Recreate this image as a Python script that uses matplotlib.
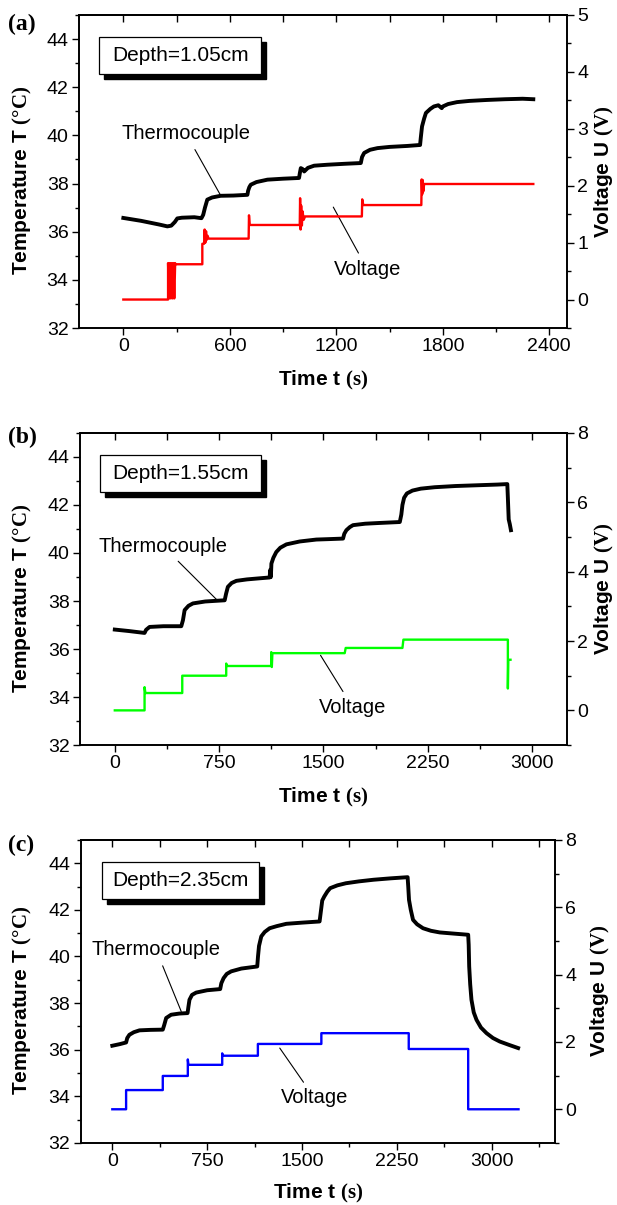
# Temperature / voltage step response at three probe depths (panels a, b, c).

import matplotlib.pyplot as plt
from matplotlib.patches import Rectangle
from matplotlib.ticker import MultipleLocator
from matplotlib.transforms import offset_copy

plt.rcParams['font.family'] = ['Liberation Sans', 'DejaVu Sans']
plt.rcParams['mathtext.fontset'] = 'custom'
plt.rcParams['mathtext.rm'] = 'Liberation Serif'
plt.rcParams['mathtext.bf'] = 'Liberation Serif:bold'
plt.rcParams['mathtext.it'] = 'Liberation Serif:italic'

# ---- panel (a), depth 1.05 cm ----
a_tc_t = [0, 100, 200, 248, 270, 290, 304, 330, 400, 440, 450, 460, 473, 500, 548, 620,
          699, 703, 710, 718, 750, 812, 900, 990, 995, 1000, 1010, 1019, 1040, 1075, 1150,
          1250, 1338, 1345, 1357, 1390, 1432, 1500, 1600, 1672, 1676, 1683, 1695, 1705,
          1730, 1750, 1775, 1794, 1800, 1830, 1880, 1950, 2050, 2150, 2250, 2310]
a_tc_T = [36.57, 36.45, 36.3, 36.22, 36.25, 36.4, 36.55, 36.58, 36.6, 36.56, 36.7, 37.0,
          37.33, 37.42, 37.49, 37.5, 37.53, 37.7, 37.85, 37.95, 38.06, 38.16, 38.2, 38.23,
          38.45, 38.64, 38.6, 38.5, 38.65, 38.74, 38.78, 38.82, 38.85, 39.1, 39.27, 39.4,
          39.47, 39.52, 39.56, 39.6, 39.9, 40.37, 40.7, 40.93, 41.1, 41.2, 41.25, 41.13,
          41.2, 41.3, 41.38, 41.43, 41.47, 41.5, 41.52, 41.5]
a_v_t = [0, 252, 252, 257, 262, 267, 272, 277, 282, 287, 292, 292, 445, 445, 455, 458, 462,
         466, 470, 475, 480, 706, 708, 712, 994, 996, 999, 1002, 1006, 1010, 1016, 1024,
         1344, 1346, 1352, 1679, 1681, 1684, 1687, 1690, 1695, 2310]
a_v_U = [0, 0, 0.64, 0.02, 0.64, 0.02, 0.64, 0.02, 0.64, 0.02, 0.64, 0.62, 0.62, 0.98,
         0.98, 1.23, 1.0, 1.2, 1.05, 1.12, 1.07, 1.07, 1.48, 1.31, 1.31, 1.78, 1.23, 1.65,
         1.3, 1.55, 1.4, 1.46, 1.46, 1.76, 1.66, 1.66, 2.11, 1.85, 2.1, 1.9, 2.03, 2.03]

# ---- panel (b), depth 1.55 cm ----
b_tc_t = [0, 100, 214, 225, 250, 350, 478, 490, 502, 530, 562, 650, 790, 800, 813, 840,
          874, 950, 1050, 1113, 1118, 1122, 1126, 1140, 1161, 1190, 1234, 1330, 1449, 1550,
          1641, 1650, 1665, 1690, 1713, 1800, 1900, 2049, 2060, 2068, 2080, 2100, 2140,
          2200, 2300, 2450, 2600, 2750, 2822, 2826, 2832, 2840, 2848]
b_tc_T = [36.81, 36.75, 36.67, 36.8, 36.92, 36.95, 36.95, 37.2, 37.62, 37.8, 37.9, 37.98,
          38.03, 38.3, 38.59, 38.75, 38.84, 38.9, 38.95, 38.98, 39.3, 39.0, 39.56, 39.8,
          40.04, 40.22, 40.36, 40.48, 40.56, 40.58, 40.6, 40.8, 40.95, 41.08, 41.16, 41.22,
          41.25, 41.29, 41.6, 42.0, 42.3, 42.48, 42.6, 42.68, 42.74, 42.79, 42.82, 42.85,
          42.87, 42.3, 41.4, 41.2, 40.95]
b_v_t = [0, 214, 214, 220, 485, 485, 801, 801, 806, 1125, 1125, 1129, 1133, 1653, 1660,
         2068, 2075, 2826, 2826, 2829, 2845]
b_v_U = [0, 0, 0.67, 0.5, 0.5, 1.0, 1.0, 1.35, 1.28, 1.28, 1.68, 1.25, 1.65, 1.65, 1.8,
         1.8, 2.04, 2.04, 0.63, 1.46, 1.46]

# ---- panel (c), depth 2.35 cm ----
c_tc_t = [0, 60, 109, 118, 135, 170, 215, 300, 399, 410, 426, 465, 530, 595, 602, 610,
          630, 663, 750, 853, 862, 880, 905, 940, 1020, 1146, 1152, 1160, 1178, 1205, 1244,
          1300, 1376, 1500, 1639, 1653, 1660, 1676, 1700, 1723, 1780, 1847, 1950, 2065,
          2200, 2335, 2340, 2346, 2360, 2378, 2410, 2457, 2520, 2589, 2700, 2814, 2818,
          2822, 2830, 2840, 2858, 2880, 2915, 2959, 3010, 3064, 3140, 3209]
c_tc_T = [36.17, 36.24, 36.31, 36.5, 36.64, 36.75, 36.83, 36.85, 36.86, 37.05, 37.36,
          37.5, 37.55, 37.57, 37.85, 38.14, 38.35, 38.45, 38.55, 38.6, 38.85, 39.07, 39.25,
          39.36, 39.48, 39.57, 40.0, 40.45, 40.86, 41.05, 41.21, 41.3, 41.4, 41.45, 41.5,
          42.1, 42.4, 42.57, 42.78, 42.93, 43.05, 43.14, 43.22, 43.29, 43.35, 43.4, 43.0,
          42.43, 42.0, 41.57, 41.38, 41.21, 41.1, 41.03, 40.98, 40.93, 40.5, 39.57, 38.8,
          38.14, 37.6, 37.28, 36.95, 36.71, 36.5, 36.35, 36.2, 36.07]
c_v_t = [0, 109, 109, 399, 399, 597, 597, 602, 869, 869, 874, 1151, 1151, 1653, 1653,
         2344, 2344, 2814, 2814, 3212]
c_v_U = [0, 0, 0.57, 0.57, 0.99, 0.99, 1.48, 1.32, 1.32, 1.66, 1.59, 1.59, 1.94, 1.94,
         2.26, 2.26, 1.79, 1.79, 0, 0]

depths = ["Depth=1.05cm", "Depth=1.55cm", "Depth=2.35cm"]
letters = ["(a)", "(b)", "(c)"]

fig = plt.figure(figsize=(6.17, 12.05), dpi=100)

TICK = 14


def draw_panel(rect, letter, letter_y, xlim, xmaj, vlim, vmaj, tc, volt, color,
               depth, box, notes, lab_x):
    ax = fig.add_axes(rect)
    ax2 = ax.twinx()

    ax.plot(tc[0], tc[1], color='black', lw=2.8, solid_joinstyle='round')
    ax2.plot(volt[0], volt[1], color=color, lw=1.7)

    ax.set_xlim(*xlim)
    ax.set_ylim(32, 45)
    ax2.set_ylim(*vlim)

    ax.xaxis.set_major_locator(MultipleLocator(xmaj))
    ax.xaxis.set_minor_locator(MultipleLocator(xmaj / 2))
    ax.yaxis.set_major_locator(MultipleLocator(2))
    ax.yaxis.set_minor_locator(MultipleLocator(1))
    ax2.yaxis.set_major_locator(MultipleLocator(vmaj))
    ax2.yaxis.set_minor_locator(MultipleLocator(vmaj / 2))

    for a in (ax, ax2):
        a.tick_params(which='both', direction='out', labelsize=TICK, width=1, pad=2.5)
        a.tick_params(which='major', length=5)
        a.tick_params(which='minor', length=3)
        for s in a.spines.values():
            s.set_linewidth(1.2)

    top = ax.secondary_xaxis('top')
    top.xaxis.set_major_locator(MultipleLocator(xmaj))
    top.xaxis.set_minor_locator(MultipleLocator(xmaj / 2))
    top.tick_params(which='both', direction='in', labeltop=False, width=1, length=5)
    top.spines['top'].set_linewidth(1.2)

    ax.set_xlabel(r'Time t $\mathbf{(s)}$', fontsize=15, fontweight='bold')
    ax.set_ylabel(r'Temperature T $\mathbf{(°C)}$', fontsize=15, fontweight='bold')
    ax2.set_ylabel(r'Voltage U $\mathbf{(V)}$', fontsize=15, fontweight='bold')
    ax.xaxis.set_label_coords(0.5, -0.13)
    ax.yaxis.set_label_coords(lab_x[0], 0.47)
    ax2.yaxis.set_label_coords(lab_x[1], 0.5)

    # depth box with a solid drop shadow
    x0, y0, x1, y1 = box
    shadow_tr = offset_copy(ax.transAxes, fig=fig, x=5, y=-5, units='dots')
    ax.add_patch(Rectangle((x0, y0), x1 - x0, y1 - y0, transform=shadow_tr,
                           facecolor='black', edgecolor='black', zorder=5, clip_on=False))
    ax.add_patch(Rectangle((x0, y0), x1 - x0, y1 - y0, transform=ax.transAxes,
                           facecolor='white', edgecolor='black', lw=0.9, zorder=6,
                           clip_on=False))
    ax.text((x0 + x1) / 2, (y0 + y1) / 2, depth, transform=ax.transAxes, fontsize=15,
            ha='center', va='center', zorder=7)

    for label, xy, xytext in notes:
        ax.annotate(label, xy=xy, xytext=xytext, fontsize=14.5, ha='center', va='center',
                    arrowprops=dict(arrowstyle='-', color='black', lw=0.8,
                                    shrinkA=3, shrinkB=0))

    fig.text(0.013, letter_y, letter, fontsize=17, fontweight='bold',
             family='Liberation Serif', ha='left', va='center')
    return ax


draw_panel([0.128, 0.7278, 0.791, 0.2598], letters[0], 1 - 24 / 1205,
           (-250, 2500), 600, (-0.5, 5), 1, (a_tc_t, a_tc_T), (a_v_t, a_v_U), '#ff0000',
           depths[0], (0.042, 0.811, 0.3725, 0.930),
           [("Thermocouple", (551, 37.47), (353, 40.07)),
            ("Voltage", (1183, 37.02), (1374, 34.45))],
           (-0.093, 1.054))

draw_panel([0.1297, 0.3817, 0.789, 0.259], letters[1], 1 - 437 / 1205,
           (-250, 3250), 750, (-1, 8), 2, (b_tc_t, b_tc_T), (b_v_t, b_v_U), '#00ff00',
           depths[1], (0.041, 0.811, 0.371, 0.929),
           [("Thermocouple", (737, 38.03), (346, 40.29)),
            ("Voltage", (1479, 35.74), (1711, 33.57))],
           (-0.095, 1.054))

draw_panel([0.1308, 0.0515, 0.7686, 0.2515], letters[2], 1 - 845 / 1205,
           (-250, 3500), 750, (-1, 8), 2, (c_tc_t, c_tc_T), (c_v_t, c_v_U), '#0000ff',
           depths[2], (0.045, 0.805, 0.376, 0.927),
           [("Thermocouple", (545, 37.64), (346, 40.29)),
            ("Voltage", (1324, 36.07), (1598, 33.93))],
           (-0.0995, 1.072))

fig.savefig('out.png', dpi=100)
